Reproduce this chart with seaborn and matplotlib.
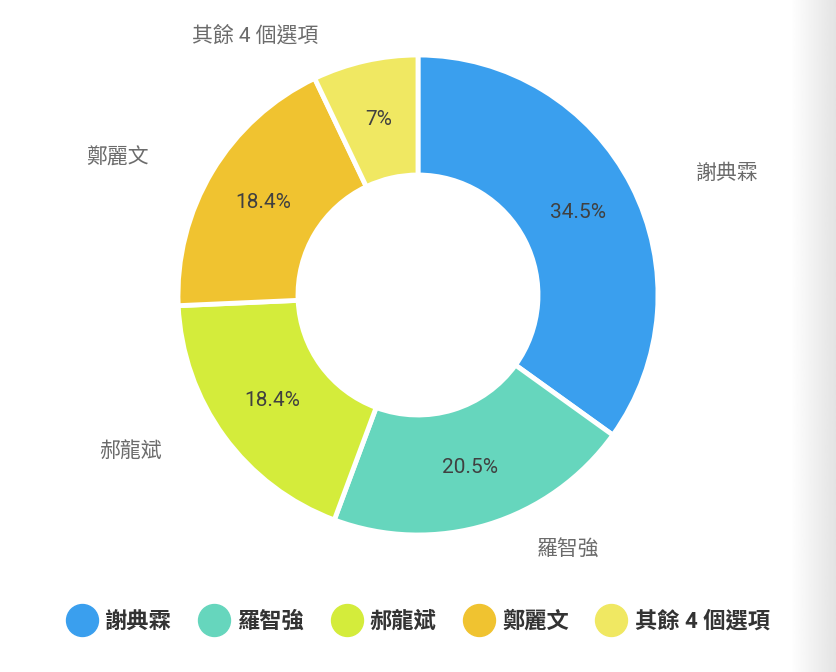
import numpy as np
import matplotlib
matplotlib.use('Agg')
import matplotlib.pyplot as plt
from matplotlib.lines import Line2D
import seaborn as sns

# Data
names = ['謝典霖', '羅智強', '郝龍斌', '鄭麗文', '其餘 4 個選項']
shares = [34.5, 20.5, 18.4, 18.4, 7]
colors = ['#3a9fee', '#66d6bd', '#d4ec3b', '#f0c330', '#f0e862']

sns.set_theme(style='white')
plt.rcParams['font.family'] = ['Roboto', 'Noto Sans CJK TC', 'DejaVu Sans']

W, H = 837, 672
fig = plt.figure(figsize=(W / 100, H / 100), dpi=100)
fig.patch.set_facecolor('white')

# soft shadow on the right edge
sh = fig.add_axes([790 / W, 0, 47 / W, 1])
grad = np.linspace(1.0, 0.89, 64).reshape(1, -1)
sh.imshow(grad, aspect='auto', cmap='gray', vmin=0, vmax=1, extent=[0, 1, 0, 1])
sh.axis('off')

# donut: centre (418, 295) px, outer radius 240 px
cx, cy, R = 418, 295, 240
ax = fig.add_axes([(cx - R) / W, (H - cy - R) / H, 2 * R / W, 2 * R / H])
pal = sns.color_palette(colors)
wedges, _ = ax.pie(shares, colors=pal, startangle=90, counterclock=False,
                   radius=1.0,
                   wedgeprops=dict(width=0.5, edgecolor='white', linewidth=3.5))
ax.set_xlim(-1, 1)
ax.set_ylim(-1, 1)
ax.set_aspect('equal')
ax.axis('off')

for w, name, v in zip(wedges, names, shares):
    mid = np.deg2rad((w.theta1 + w.theta2) / 2)
    c, s = np.cos(mid), np.sin(mid)
    ax.text(0.75 * c, 0.75 * s, f'{v:g}%', ha='center', va='center',
            fontsize=15, color='#404040')
    side = 1 if c >= 0 else -1
    ax.text(1.11 * c + side * 0.17, 1.11 * s, name,
            ha='left' if side > 0 else 'right', va='center',
            fontsize=15, color='#6b6b6b', clip_on=False)

handles = [Line2D([0], [0], marker='o', linestyle='', markersize=23,
                  markerfacecolor=col, markeredgecolor=col) for col in colors]
leg = fig.legend(handles, names, loc='center', bbox_to_anchor=(418 / W, 1 - 622 / H),
                 ncol=5, frameon=False, handletextpad=0.35, columnspacing=1.2,
                 prop=dict(size=16, weight='bold'), labelcolor='#333333',
                 handlelength=1.4)

fig.savefig('out.png', dpi=100, facecolor='white')
